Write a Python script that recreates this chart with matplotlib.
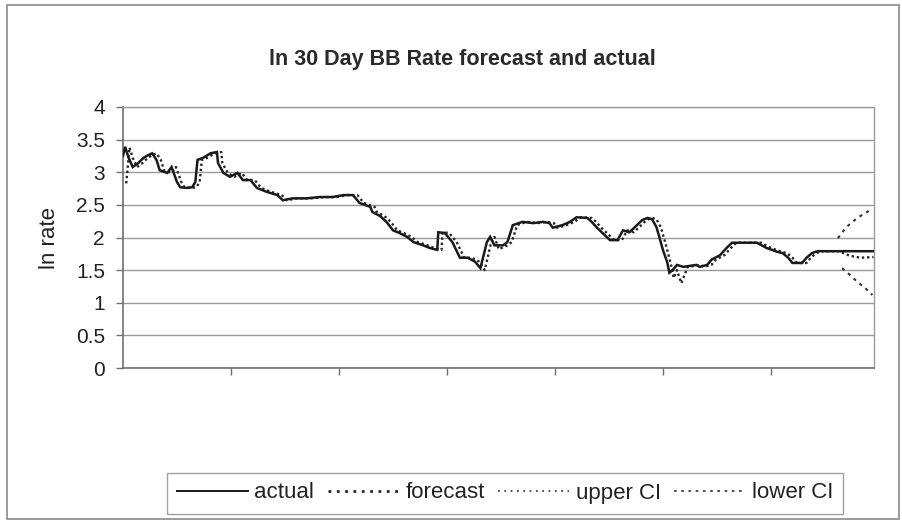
import matplotlib
matplotlib.use("Agg")
import matplotlib.pyplot as plt
from matplotlib.patches import Rectangle
from matplotlib.lines import Line2D

# ---------------- data ----------------
actual_day = [0, 2, 5, 9, 14, 19, 23, 27, 31, 34, 41, 45, 50, 53, 59, 64, 67, 69, 74, 81,
              87, 88, 93, 99, 106, 111, 118, 124, 133, 143, 148, 157, 170, 182, 194, 204,
              213, 219, 229, 231, 238, 244, 250, 256, 263, 269, 278, 284, 291, 292, 298,
              305, 312, 319, 326, 331, 337, 340, 344, 352, 356, 361, 370, 380, 389, 395,
              398, 407, 414, 420, 430, 434, 439, 444, 451, 458, 463, 469, 476, 481, 486,
              490, 494, 497, 500, 504, 506, 509, 513, 519, 531, 534, 541, 545, 553, 559,
              564, 587, 596, 606, 611, 616, 620, 629, 633, 638, 643, 695]
actual_val = [3.25, 3.39, 3.23, 3.08, 3.14, 3.22, 3.26, 3.29, 3.19, 3.03, 2.99, 3.08, 2.85,
              2.77, 2.76, 2.77, 2.85, 3.19, 3.22, 3.29, 3.31, 3.14, 2.99, 2.93, 2.99, 2.88,
              2.88, 2.76, 2.70, 2.65, 2.57, 2.60, 2.60, 2.62, 2.62, 2.65, 2.65, 2.53, 2.47,
              2.39, 2.33, 2.24, 2.11, 2.07, 2.01, 1.93, 1.88, 1.84, 1.81, 2.08, 2.07, 1.93,
              1.69, 1.69, 1.63, 1.53, 1.93, 2.01, 1.88, 1.88, 1.93, 2.19, 2.24, 2.22, 2.24,
              2.22, 2.15, 2.19, 2.24, 2.31, 2.30, 2.24, 2.15, 2.07, 1.96, 1.96, 2.11, 2.08,
              2.19, 2.27, 2.30, 2.28, 2.16, 1.99, 1.81, 1.62, 1.46, 1.50, 1.58, 1.55, 1.58,
              1.55, 1.58, 1.66, 1.73, 1.84, 1.92, 1.92, 1.84, 1.78, 1.76, 1.69, 1.61, 1.61,
              1.69, 1.76, 1.79, 1.79]

forecast_day = [3, 6, 9, 13, 18, 23, 27, 31, 35, 38, 45, 49, 54, 57, 63, 68, 71, 73, 78, 85,
                91, 92, 97, 103, 110, 115, 122, 128, 137, 147, 152, 161, 174, 186, 198, 208,
                217, 223, 233, 235, 242, 248, 254, 260, 267, 273, 282, 288, 295, 296, 302,
                309, 316, 323, 330, 335, 341, 344, 348, 356, 360, 365, 374, 384, 393, 399,
                402, 411, 418, 424, 434, 438, 443, 448, 455, 462, 467, 473, 480, 485, 490,
                494, 498, 501, 504, 508, 510, 513, 517, 523, 535, 538, 545, 549, 557, 563,
                568, 591, 600, 610, 615, 620, 624, 633, 637, 642, 647, 663, 673, 683, 695]
forecast_val = [2.83, 3.38, 3.22, 3.08, 3.14, 3.22, 3.26, 3.29, 3.19, 3.03, 2.99, 3.08, 2.85,
                2.77, 2.76, 2.77, 2.85, 3.19, 3.22, 3.29, 3.31, 3.14, 2.99, 2.93, 2.99, 2.88,
                2.88, 2.76, 2.70, 2.65, 2.57, 2.60, 2.60, 2.62, 2.62, 2.65, 2.65, 2.53, 2.47,
                2.39, 2.33, 2.24, 2.11, 2.07, 2.01, 1.93, 1.88, 1.84, 1.81, 2.08, 2.07, 1.93,
                1.69, 1.69, 1.63, 1.50, 1.93, 2.01, 1.82, 1.88, 1.93, 2.19, 2.24, 2.22, 2.24,
                2.22, 2.15, 2.19, 2.24, 2.31, 2.30, 2.24, 2.15, 2.07, 1.96, 1.96, 2.11, 2.08,
                2.19, 2.27, 2.30, 2.28, 2.16, 1.99, 1.81, 1.55, 1.38, 1.50, 1.30, 1.55, 1.58,
                1.55, 1.58, 1.66, 1.73, 1.84, 1.92, 1.92, 1.84, 1.78, 1.76, 1.69, 1.61, 1.61,
                1.69, 1.76, 1.79, 1.79, 1.72, 1.69, 1.70]

upper_day = [662, 670, 680, 687, 694]
upper_val = [1.99, 2.16, 2.30, 2.37, 2.44]
lower_day = [666, 673, 680, 687, 694]
lower_val = [1.53, 1.43, 1.32, 1.23, 1.12]

y_ticks = [0, 0.5, 1, 1.5, 2, 2.5, 3, 3.5, 4]
y_tick_labels = ["0", "0.5", "1", "1.5", "2", "2.5", "3", "3.5", "4"]
x_ticks = [100, 200, 300, 400, 500, 600]

title = "ln 30 Day BB Rate forecast and actual"
ylabel = "ln rate"
labels = ["actual", "forecast", "upper CI", "lower CI"]

# ---------------- figure ----------------
plt.rcParams['font.family'] = ['Liberation Sans', 'DejaVu Sans']
W, H = 903, 523
fig = plt.figure(figsize=(W / 100, H / 100), dpi=100)
fig.patch.set_facecolor("white")

# outer chart border
fig.patches.append(Rectangle((7 / W, 1 - 519 / H), (899 - 7) / W, (519 - 5) / H,
                             transform=fig.transFigure, fill=False,
                             edgecolor="#8a8a8a", linewidth=1.2))

ax = fig.add_axes([123 / W, 1 - 368 / H, (874 - 123) / W, (368 - 107) / H])
ax.set_xlim(0, 695.5)
ax.set_ylim(0, 4)

ax.plot(actual_day, actual_val, color="#1a1a1a", lw=1.8, solid_joinstyle="miter", zorder=4)
ax.plot(forecast_day, forecast_val, color="#262626", lw=1.7, linestyle=(0, (1, 1.2)), zorder=3)
ax.plot(upper_day, upper_val, color="#333333", lw=1.5, linestyle=(0, (1.5, 2.2)), zorder=3)
ax.plot(lower_day, lower_val, color="#333333", lw=1.5, linestyle=(0, (1.5, 2.2)), zorder=3)

ax.set_yticks(y_ticks)
ax.set_yticklabels(y_tick_labels)
ax.set_xticks(x_ticks)
ax.set_xticklabels([])
ax.yaxis.grid(True, color="#9a9a9a", lw=1.0)
ax.set_axisbelow(True)

for s in ["left", "bottom"]:
    ax.spines[s].set_color("#707070")
    ax.spines[s].set_linewidth(1.2)
for s in ["right", "top"]:
    ax.spines[s].set_color("#9a9a9a")
    ax.spines[s].set_linewidth(1.0)

ax.tick_params(axis="y", direction="out", length=5, width=1, color="#707070",
               labelsize=15, labelcolor="#222222", pad=8)
ax.tick_params(axis="x", direction="out", length=5, width=1, color="#707070")

fig.text(50 / W, 1 - 238 / H, ylabel, rotation=90, ha="center", va="center",
         fontsize=16, color="#222222")
fig.text(462 / W, 1 - 60 / H, title, ha="center", va="center", fontsize=15.5,
         fontweight="bold", color="#2a2a2a",
         family=["Liberation Sans Narrow", "Liberation Sans", "DejaVu Sans"])

handles = [
    Line2D([], [], color="#1a1a1a", lw=1.4),
    Line2D([], [], color="#262626", lw=2.0, linestyle=(0, (1, 2))),
    Line2D([], [], color="#444444", lw=1.3, linestyle=(0, (1, 2.5))),
    Line2D([], [], color="#444444", lw=1.3, linestyle=(0, (1.5, 2.5))),
]
leg = fig.legend(handles, labels, loc="center", bbox_to_anchor=(505 / W, 1 - 493 / H),
                 ncol=4, fontsize=16, frameon=True, fancybox=False, handlelength=3.2,
                 handletextpad=0.3, columnspacing=0.6, borderpad=0.45, labelcolor="#222222")
leg.get_frame().set_edgecolor("#8a8a8a")
leg.get_frame().set_linewidth(1.0)

fig.savefig("out.png", dpi=100)
